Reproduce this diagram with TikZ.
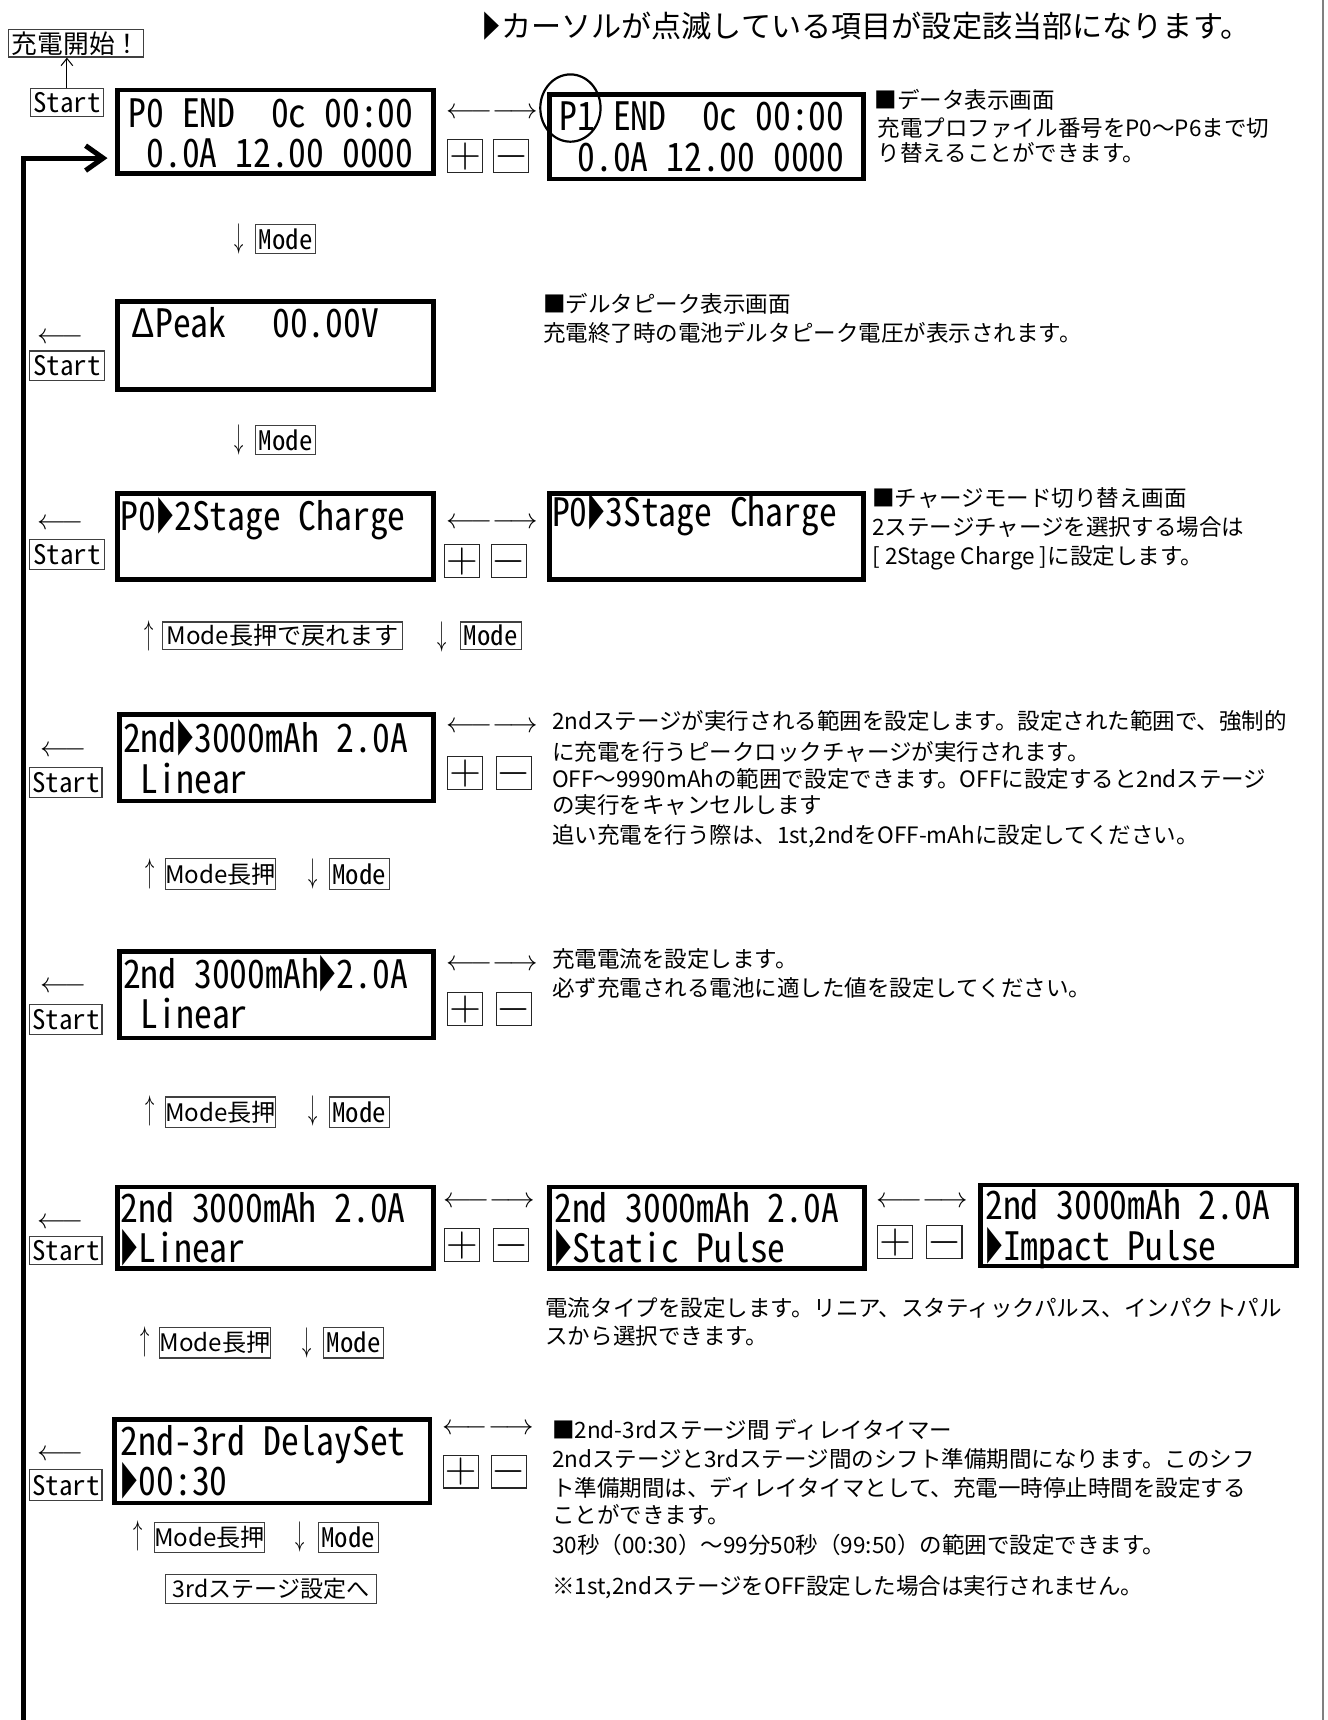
\RequirePackage{fix-cm}
\documentclass[tikz,border=0pt]{standalone}
\usepackage{fontspec}
\usetikzlibrary{arrows.meta}
\newfontfamily\jp{Noto Sans CJK JP}
\newfontfamily\hw[RawFeature=+hwid]{Noto Sans CJK JP}
\newfontfamily\lcdfam[RawFeature=+hwid,FakeStretch=0.91]{Noto Sans CJK JP}
\newcommand\ph{\phantom{0}}
\newcommand\tri{\scalebox{0.5}[1]{▶}}
\newcommand\vdn{\scalebox{0.7}[1.3]{$\downarrow$}}
\newcommand\vup{\scalebox{0.7}[1.3]{$\uparrow$}}
\newcommand\lr{$\longleftarrow\longrightarrow$}
\newcommand\la{$\longleftarrow$}
\tikzset{
  lcdbox/.style={draw, line width=3.2pt, inner sep=0pt, anchor=north west},
  lcdt/.style={font=\lcdfam\fontsize{26.75pt}{27pt}\selectfont, anchor=base west, inner sep=0pt},
  desc/.style={font=\jp\fontsize{15.4pt}{16pt}\selectfont, anchor=base west, inner sep=0pt},
  btn/.style={draw=black!75, line width=0.75pt, inner sep=0pt, minimum height=20pt},
  hwf/.style={font=\hw\fontsize{18.4pt}{19pt}\selectfont},
  jpb/.style={font=\jp\fontsize{16.5pt}{17pt}\selectfont},
  pm/.style={btn, draw=black!85, minimum width=24pt, minimum height=22.5pt, font=\fontsize{30pt}{30pt}\selectfont},
  harr/.style={inner sep=0pt, font=\fontsize{19.5pt}{19.5pt}\selectfont},
  varr/.style={inner sep=0pt, font=\fontsize{18pt}{18pt}\selectfont},
  loopline/.style={line width=3.45pt, line join=miter, -{Straight Barb[length=12pt,width=17pt]}},
  thinarrow/.style={line width=0.7pt, -{Straight Barb[length=5pt,width=8pt]}},
}
\begin{document}
\begin{tikzpicture}[x=0.75pt,y=-0.75pt]
\fill[white] (0,0) rectangle (1210,1568);
\useasboundingbox (0,0) rectangle (1210,1568);
% right border
\draw[black!50, line width=1.4pt] (1206,0) -- (1206,1568);
% title
\node[anchor=base west, inner sep=0pt, font=\jp\fontsize{20.6pt}{21pt}\selectfont] (title) at (440,34) {\scalebox{0.6}[1]{▶}カーソルが点滅している項目が設定該当部になります。};
% ---- row 1
\node[btn, minimum width=92.25pt, minimum height=18.75pt, font=\jp\fontsize{17.6pt}{18pt}\selectfont] (c0) at (69.5,39.5) {充電開始！};
\node[btn, hwf, minimum width=49.5pt, minimum height=18.75pt] (s0) at (61,93.5) {Start};
\draw[thinarrow] (s0.north) -- (s0.north |- c0.south);
\node[lcdbox, minimum width=216pt, minimum height=57pt] (b1) at (105,80) {};
\node[lcdt] (b1a) at (117,116) {P0\ph END\ph\ph 0c\ph 00:00};
\node[lcdt] (b1b) at (117,153) {\ph 0.0A\ph 12.00\ph 0000};
\node[harr] (r1) at (449,103) {\lr};
\node[pm] (p1) at (424,142.5) {$+$};
\node[pm] (m1) at (466,142.5) {$-$};
\node[lcdbox, minimum width=214.5pt, minimum height=57.75pt] (b2) at (499,84) {};
\node[lcdt] (b2a) at (510,119) {P1\ph END\ph\ph 0c\ph 00:00};
\node[lcdt] (b2b) at (510,156) {\ph 0.0A\ph 12.00\ph 0000};
\draw[line width=1.5pt] (520,98.5) ellipse [x radius=20.6pt, y radius=23pt];
\node[desc] (d1a) at (797,99) {■データ表示画面};
\node[desc] (d1b) at (800,124) {充電プロファイル番号をP0～P6まで切};
\node[desc] (d1c) at (800,147) {り替えることができます。};
% ---- row A
\node[varr] (va1) at (218,218) {\vdn};
\node[btn, hwf, minimum width=41.25pt, minimum height=19.5pt] (ma1) at (260.5,218) {Mode};
% ---- delta peak
\node[lcdbox, minimum width=216pt, minimum height=60pt] (b3) at (105,273) {};
\node[lcdt] (b3a) at (120,308) {ΔPeak};
\node[lcdt] (b3b) at (248,308) {00.00V};
\node[harr] (l3) at (55,308) {\la};
\node[btn, hwf, minimum width=51pt, minimum height=20.25pt] (s3) at (61,333.5) {Start};
\node[desc] (d2a) at (495,285) {■デルタピーク表示画面};
\node[desc] (d2b) at (495,311) {充電終了時の電池デルタピーク電圧が表示されます。};
% ---- row B
\node[varr] (vb1) at (218,401) {\vdn};
\node[btn, hwf, minimum width=41.25pt, minimum height=19.5pt] (mb1) at (260.5,401) {Mode};
% ---- charge mode
\node[lcdbox, minimum width=216pt, minimum height=58.5pt] (b4) at (105,448) {};
\node[lcdt] (b4a) at (110,484) {P0\tri 2Stage\ph Charge};
\node[harr] (l4) at (55,478) {\la};
\node[btn, hwf, minimum width=51pt, minimum height=20.25pt] (s4) at (61,505.5) {Start};
\node[harr] (r4) at (449,477) {\lr};
\node[pm] (p4) at (421,511.5) {$+$};
\node[pm] (m4) at (464,511.5) {$-$};
\node[lcdbox, minimum width=214.5pt, minimum height=58.5pt] (b5) at (499,448) {};
\node[lcdt] (b5a) at (503,480) {P0\tri 3Stage\ph Charge};
\node[desc] (d3a) at (795,462) {■チャージモード切り替え画面};
\node[desc] (d3b) at (795,488) {2ステージチャージを選択する場合は};
\node[desc] (d3c) at (795,515) {[ 2Stage Charge ]に設定します。};
% ---- row C
\node[varr] (vc0) at (136,580) {\vup};
\node[btn, jpb, minimum width=164.25pt, minimum height=18.75pt] (bc) at (257.5,579.5) {Mode長押で戻れます};
\node[varr] (vc1) at (403,581) {\vdn};
\node[btn, hwf, minimum width=41.25pt, minimum height=18.75pt] (mc1) at (447.5,579.5) {Mode};
% ---- 2nd range
\node[lcdbox, minimum width=214.5pt, minimum height=59.25pt] (b6) at (107,649) {};
\node[lcdt] (b6a) at (112,686) {2nd\tri 3000mAh\ph 2.0A};
\node[lcdt] (b6b) at (112,723) {\ph Linear};
\node[harr] (l6) at (58,685) {\la};
\node[btn, hwf, minimum width=49.5pt, minimum height=20.25pt] (s6) at (60,713.5) {Start};
\node[harr] (r6) at (449,663) {\lr};
\node[pm] (p6) at (424,705) {$+$};
\node[pm] (m6) at (468.5,705) {$-$};
\node[desc] (d4a) at (503,665) {2ndステージが実行される範囲を設定します。設定された範囲で、強制的};
\node[desc] (d4b) at (503,693) {に充電を行うピークロックチャージが実行されます。};
\node[desc] (d4c) at (503,718) {OFF～9990mAhの範囲で設定できます。OFFに設定すると2ndステージ};
\node[desc] (d4d) at (503,742) {の実行をキャンセルします};
\node[desc] (d4e) at (503,769) {追い充電を行う際は、1st,2ndをOFF-mAhに設定してください。};
% ---- row D
\node[varr] (vd0) at (137,797) {\vup};
\node[btn, jpb, minimum width=75pt, minimum height=21pt] (bd) at (201,797) {Mode長押};
\node[varr] (vd1) at (285,797) {\vdn};
\node[btn, hwf, minimum width=41.25pt, minimum height=21pt] (md1) at (327.5,797) {Mode};
% ---- current
\node[lcdbox, minimum width=214.5pt, minimum height=59.25pt] (b7) at (107,865) {};
\node[lcdt] (b7a) at (112,901) {2nd\ph 3000mAh\tri 2.0A};
\node[lcdt] (b7b) at (112,938) {\ph Linear};
\node[harr] (l7) at (58,900) {\la};
\node[btn, hwf, minimum width=49.5pt, minimum height=20.25pt] (s7) at (60,929.5) {Start};
\node[harr] (r7) at (449,880) {\lr};
\node[pm] (p7) at (424,920) {$+$};
\node[pm] (m7) at (468.5,920) {$-$};
\node[desc] (d5a) at (503,882) {充電電流を設定します。};
\node[desc] (d5b) at (503,908) {必ず充電される電池に適した値を設定してください。};
% ---- row E
\node[varr] (ve0) at (137,1013) {\vup};
\node[btn, jpb, minimum width=75pt, minimum height=21pt] (be) at (201,1014) {Mode長押};
\node[varr] (ve1) at (285,1013) {\vdn};
\node[btn, hwf, minimum width=41.25pt, minimum height=21pt] (me1) at (327.5,1014) {Mode};
% ---- current type
\node[lcdbox, minimum width=216pt, minimum height=55.5pt] (b8) at (105,1080) {};
\node[lcdt] (b8a) at (110,1114) {2nd\ph 3000mAh\ph 2.0A};
\node[lcdt] (b8b) at (110,1151) {\tri Linear};
\node[harr] (l8) at (55,1115) {\la};
\node[btn, hwf, minimum width=49.5pt, minimum height=19.5pt] (s8) at (60,1140) {Start};
\node[harr] (r8) at (446,1096) {\lr};
\node[pm] (p8) at (421,1135) {$+$};
\node[pm] (m8) at (466,1135) {$-$};
\node[lcdbox, minimum width=215.25pt, minimum height=55.5pt] (b9) at (499,1080) {};
\node[lcdt] (b9a) at (505,1114) {2nd\ph 3000mAh\ph 2.0A};
\node[lcdt] (b9b) at (505,1151) {\tri Static\ph Pulse};
\node[harr] (r9) at (841,1096) {\lr};
\node[pm] (p9) at (816,1132.5) {$+$};
\node[pm] (m9) at (861,1132.5) {$-$};
\node[lcdbox, minimum width=216pt, minimum height=55.5pt] (b10) at (892,1078) {};
\node[lcdt] (b10a) at (898,1112) {2nd\ph 3000mAh\ph 2.0A};
\node[lcdt] (b10b) at (898,1149) {\tri Impact\ph Pulse};
\node[desc] (d6a) at (497,1200) {電流タイプを設定します。リニア、スタティックパルス、インパクトパル};
\node[desc] (d6b) at (497,1226) {スから選択できます。};
% ---- row F
\node[varr] (vf0) at (132,1223) {\vup};
\node[btn, jpb, minimum width=75pt, minimum height=21pt] (bf) at (196,1224) {Mode長押};
\node[varr] (vf1) at (280,1224) {\vdn};
\node[btn, hwf, minimum width=41.25pt, minimum height=21pt] (mf1) at (322.5,1224) {Mode};
% ---- delay
\node[lcdbox, minimum width=216pt, minimum height=57pt] (b11) at (102,1292) {};
\node[lcdt] (b11a) at (110,1327) {2nd-3rd\ph DelaySet};
\node[lcdt] (b11b) at (110,1363) {\tri 00:30};
\node[harr] (l11) at (55,1327) {\la};
\node[btn, hwf, minimum width=49.5pt, minimum height=21pt] (s11) at (60,1354) {Start};
\node[harr] (r11) at (445,1303) {\lr};
\node[pm] (p11) at (420,1341.5) {$+$};
\node[pm] (m11) at (464,1341.5) {$-$};
\node[desc] (d7a) at (503,1311) {■2nd-3rdステージ間 ディレイタイマー};
\node[desc] (d7b) at (503,1338) {2ndステージと3rdステージ間のシフト準備期間になります。このシフ};
\node[desc] (d7c) at (503,1364) {ト準備期間は、ディレイタイマとして、充電一時停止時間を設定する};
\node[desc] (d7d) at (503,1389) {ことができます。};
\node[desc] (d7e) at (503,1416) {30秒（00:30）～99分50秒（99:50）の範囲で設定できます。};
\node[desc] (d7f) at (503,1454) {※1st,2ndステージをOFF設定した場合は実行されません。};
% ---- row G
\node[varr] (vg0) at (126,1400) {\vup};
\node[btn, jpb, minimum width=75pt, minimum height=20.25pt] (bg) at (191,1401.5) {Mode長押};
\node[varr] (vg1) at (274,1401) {\vdn};
\node[btn, hwf, minimum width=41.25pt, minimum height=20.25pt] (mg1) at (317.5,1401.5) {Mode};
\node[btn, font=\jp\fontsize{15.75pt}{16pt}\selectfont, minimum width=144pt, minimum height=20.25pt] (to3) at (247,1448.5) {3rdステージ設定へ};
% ---- loop back line
\coordinate (loopbot) at (21.4,1575);
\coordinate (loopin) at ([xshift=-5.25pt,yshift=-18pt]b1.west);
\draw[loopline] (loopbot) |- (loopin);
\end{tikzpicture}
\end{document}
